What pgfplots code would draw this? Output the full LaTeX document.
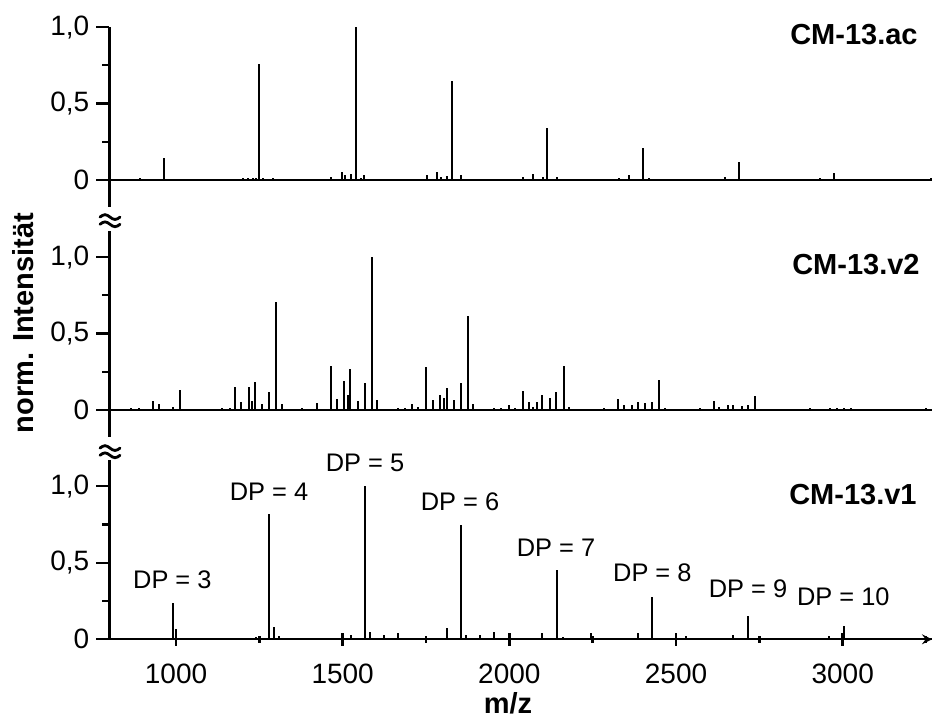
\documentclass[border=0pt]{standalone}
\usepackage{fontspec}
\setmainfont{Liberation Sans}
\usepackage{pgfplots}
\pgfplotsset{compat=1.18}

\newcommand\tickfont{\fontsize{14}{16}\selectfont}
\newcommand\dpfont{\fontsize{12.7}{15}\selectfont}
\newcommand\boldfont{\bfseries\fontsize{14.5}{17}\selectfont}

\pgfplotsset{
  spec/.style={
    x=0.166667pt, y=76.5pt,
    xmin=800, xmax=3268,
    axis y line=left,
    axis line style={-, line width=1.2pt},
    tick align=outside,
    major tick length=6.5pt, minor tick length=3.5pt,
    every tick/.style={line width=1.2pt, black},
    ytick={0,0.5,1}, yticklabels={0,{0,5},{1,0}},
    minor ytick={0.25,0.75},
    tick label style={font=\tickfont},
    clip=false, anchor=south west,
  },
  peaks/.style={ycomb, black, line width=0.9pt, mark=none},
  base/.style={black, line width=1pt, mark=none},
}

\begin{document}
\begin{tikzpicture}
\path[use as bounding box] (0,0) rectangle (466pt,358.5pt);

% CM-13.ac
\begin{axis}[spec, at={(54.67pt,255.1pt)}, ymin=-0.175, ymax=1.0,
  axis x line=none]
\addplot[base] coordinates {(800,0) (3268,0)};
\addplot[peaks] coordinates {
  (892,0.01) (964,0.144) (1200,0.01) (1215,0.012) (1230,0.012) (1240,0.015)
  (1250,0.76) (1262,0.012) (1290,0.01) (1465,0.02) (1497,0.054) (1507,0.03)
  (1525,0.04) (1539,1.0) (1555,0.015) (1565,0.03) (1753,0.03) (1783,0.054)
  (1795,0.02) (1812,0.025) (1827,0.648) (1855,0.03) (2040,0.02) (2072,0.04)
  (2100,0.02) (2114,0.338) (2142,0.02) (2330,0.015) (2360,0.03) (2401,0.208)
  (2420,0.01) (2647,0.02) (2690,0.12) (2932,0.01) (2975,0.048) (3265,0.015)
};
\end{axis}

% CM-13.v2
\begin{axis}[spec, at={(54.67pt,140.1pt)}, ymin=-0.175, ymax=1.17,
  axis x line=none]
\addplot[base] coordinates {(800,0) (3268,0)};
\addplot[peaks] coordinates {
  (864,0.01) (890,0.015) (932,0.06) (949,0.04) (992,0.02) (1012,0.13)
  (1137,0.01) (1162,0.01) (1178,0.15) (1195,0.05) (1219,0.15) (1229,0.06)
  (1238,0.18) (1259,0.04) (1280,0.115) (1300,0.703) (1317,0.04) (1377,0.01)
  (1424,0.048) (1465,0.286) (1482,0.07) (1505,0.19) (1515,0.1) (1523,0.27)
  (1545,0.06) (1566,0.177) (1587,1.0) (1604,0.065) (1667,0.01) (1687,0.01)
  (1709,0.04) (1727,0.02) (1750,0.28) (1770,0.065) (1793,0.097) (1804,0.08)
  (1812,0.145) (1833,0.065) (1855,0.177) (1875,0.612) (1892,0.04) (1955,0.01)
  (1975,0.01) (1998,0.035) (2017,0.015) (2040,0.125) (2058,0.055) (2072,0.02)
  (2082,0.05) (2099,0.095) (2122,0.08) (2141,0.115) (2163,0.288) (2179,0.02)
  (2284,0.015) (2327,0.07) (2344,0.03) (2369,0.03) (2387,0.054) (2407,0.045)
  (2429,0.05) (2450,0.195) (2467,0.01) (2572,0.01) (2614,0.056) (2630,0.02)
  (2657,0.03) (2672,0.03) (2697,0.025) (2715,0.03) (2737,0.09) (2902,0.01)
  (2962,0.015) (2982,0.01) (3005,0.015) (3024,0.015) (3250,0.01)
};
\end{axis}

% CM-13.v1
\begin{axis}[spec, at={(54.67pt,38.85pt)}, ymin=0, ymax=1.17,
  axis x line=bottom,
  xtick={1000,1500,2000,2500,3000},
  minor xtick={1250,1750,2250,2750,3250},
  xticklabel style={yshift=-5.5pt,
    /pgf/number format/assume math mode=true,
    /pgf/number format/1000 sep={}}]
\addplot[base] coordinates {(800,0) (3268,0)};
\addplot[peaks] coordinates {
  (860,0.01) (900,0.01) (991,0.235) (1000,0.07) (1050,0.01) (1190,0.01)
  (1210,0.01) (1240,0.015) (1280,0.82) (1294,0.08) (1310,0.02) (1340,0.01)
  (1480,0.01) (1525,0.025) (1566,1.0) (1582,0.05) (1625,0.025) (1667,0.04)
  (1770,0.01) (1812,0.076) (1855,0.747) (1870,0.03) (1912,0.03) (1955,0.05)
  (2060,0.01) (2099,0.04) (2142,0.453) (2160,0.015) (2245,0.04) (2387,0.04)
  (2429,0.274) (2530,0.02) (2672,0.03) (2717,0.152) (2770,0.01) (2958,0.02)
  (3005,0.087) (3100,0.01)
};
\node[font=\dpfont] at (axis cs:989,0.388) {DP = 3};
\node[font=\dpfont] at (axis cs:1279,0.965) {DP = 4};
\node[font=\dpfont] at (axis cs:1567,1.152) {DP = 5};
\node[font=\dpfont] at (axis cs:1852,0.900) {DP = 6};
\node[font=\dpfont] at (axis cs:2140,0.596) {DP = 7};
\node[font=\dpfont] at (axis cs:2429,0.432) {DP = 8};
\node[font=\dpfont] at (axis cs:2716,0.330) {DP = 9};
\node[font=\dpfont] at (axis cs:3002,0.280) {DP = 10};
\end{axis}

% axis breaks
\foreach \yb in {248.15pt,132.65pt} {
  \foreach \dy in {-1.8pt,1.8pt} {
    \draw[line width=1.4pt, line cap=round]
      ([xshift=-5pt, yshift=\dy]55pt,\yb) sin ++(2.5pt,1.2pt) cos ++(2.5pt,-1.2pt)
      sin ++(2.5pt,-1.2pt) cos ++(2.5pt,1.2pt);
  }
}

% panel titles
\begin{scope}[every node/.style={font=\boldfont, anchor=east, inner sep=0pt}]
\node at (459pt,341pt) {CM-13.ac};
\node at (460pt,226pt) {CM-13.v2};
\node at (458.5pt,111pt) {CM-13.v1};
\end{scope}

% axis labels
\node[font=\boldfont, rotate=90, inner sep=0pt] at (11.5pt,197pt) {norm. Intensität};
\node[font=\boldfont, inner sep=0pt] at (254pt,6.8pt) {m/z};
\end{tikzpicture}
\end{document}
